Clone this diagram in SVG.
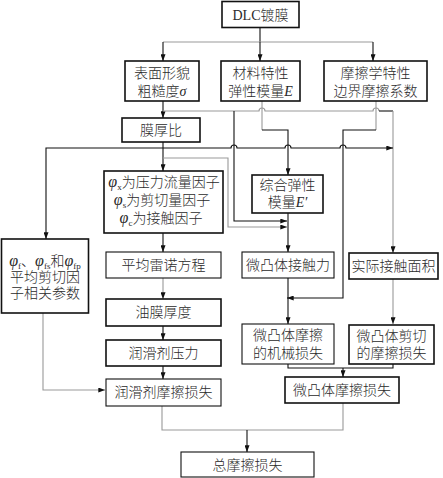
<svg xmlns="http://www.w3.org/2000/svg" width="443" height="478" viewBox="0 0 443 478">
<defs>
<marker id="ah" viewBox="0 0 8 6" refX="8" refY="3" markerWidth="7" markerHeight="5" orient="auto" markerUnits="userSpaceOnUse"><path d="M0,0 L8,3 L0,6 z" fill="#111"/></marker>
<style>
.b{fill:#fff;stroke:#111;stroke-width:1.6}
.t{fill:#fff;stroke:#111;stroke-width:1.1}
text{font-family:"Liberation Serif","Noto Sans CJK SC",serif;font-size:14px;font-weight:300;fill:#2a2a2a;text-anchor:middle}
.k{fill:none;stroke:#111;stroke-width:1.1}
.g{fill:none;stroke:#999;stroke-width:1.1}
.i{font-style:italic}
.p{font-style:italic;font-size:16px}
.s{font-size:9px}
</style>
</defs>
<rect width="443" height="478" fill="#fff"/>
<g id="connectors">
<path class="k" d="M260,28 V42"/>
<path class="g" d="M163,42 H373"/>
<path class="k" d="M163,42 V61" marker-end="url(#ah)"/>
<path class="k" d="M260,42 V61" marker-end="url(#ah)"/>
<path class="k" d="M373,42 V61" marker-end="url(#ah)"/>
<path class="k" d="M163,101 V118" marker-end="url(#ah)"/>
<path class="g" d="M163,111 H259 a3,3 0 0 1 6,0 H373 a3,3 0 0 1 6,0"/>
<path class="k" d="M379,111 H393"/>
<path class="g" d="M393,111 V253" marker-end="url(#ah)"/>
<path class="k" d="M234,111 V221 H287" marker-end="url(#ah)"/>
<path class="g" d="M262,101 V130"/>
<path class="k" d="M262,130 H288 V175" marker-end="url(#ah)"/>
<path class="g" d="M376,101 V130"/>
<path class="k" d="M376,130 H343 V298 H287" marker-end="url(#ah)"/>
<path class="k" d="M163,148 H46 V239" marker-end="url(#ah)"/>
<path class="k" d="M163,148 H231 a3,3 0 0 1 6,0 H285 a3,3 0 0 1 6,0 H340 a3,3 0 0 1 6,0 H393" marker-end="url(#ah)"/>
<path class="k" d="M163,142 V171" marker-end="url(#ah)"/>
<path class="g" d="M163,158 H228 V227 H287" marker-end="url(#ah)"/>
<path class="k" d="M163,233 V252" marker-end="url(#ah)"/>
<path class="g" d="M163,278 V299" marker-end="url(#ah)"/>
<path class="k" d="M163,326 V340" marker-end="url(#ah)"/>
<path class="k" d="M163,366 V379" marker-end="url(#ah)"/>
<path class="k" d="M288,213 V252" marker-end="url(#ah)"/>
<path class="k" d="M288,278 V324" marker-end="url(#ah)"/>
<path class="g" d="M393,279 V324" marker-end="url(#ah)"/>
<path class="k" d="M288,364 V368 H393 V364"/>
<path class="k" d="M343,368 V377" marker-end="url(#ah)"/>
<path class="g" d="M43,313 V390 H105" marker-end="url(#ah)"/>
<path class="g" d="M162,406 V430 H343 V403"/>
<path class="k" d="M247,430 V452" marker-end="url(#ah)"/>
</g>
<g id="n-dlc"><rect class="b" x="222" y="1.5" width="77" height="26"/><text x="260.5" y="20">DLC镀膜</text></g>
<g id="n-surface"><rect class="b" x="125" y="61" width="74" height="40"/><text x="162" y="78">表面形貌</text><text x="162" y="96">粗糙度<tspan class="i">σ</tspan></text></g>
<g id="n-material"><rect class="b" x="221" y="61" width="79" height="40"/><text x="260.5" y="78">材料特性</text><text x="260.5" y="96">弹性模量<tspan class="i">E</tspan></text></g>
<g id="n-tribo"><rect class="b" x="324" y="61" width="103" height="40"/><text x="375.5" y="78">摩擦学特性</text><text x="375.5" y="96">边界摩擦系数</text></g>
<g id="n-ratio"><rect class="b" x="122" y="118" width="78" height="24"/><text x="161" y="135">膜厚比</text></g>
<g id="n-phi"><rect class="b" x="104" y="171" width="119" height="62"/>
<text x="164" y="187"><tspan class="p">φ</tspan><tspan class="s" dy="3">x</tspan><tspan dy="-3">为压力流量因子</tspan></text>
<text x="162" y="205"><tspan class="p">φ</tspan><tspan class="s" dy="3">s</tspan><tspan dy="-3">为剪切量因子</tspan></text>
<text x="161" y="223"><tspan class="p">φ</tspan><tspan class="s" dy="3">c</tspan><tspan dy="-3">为接触因子</tspan></text></g>
<g id="n-phif"><rect class="b" x="1.5" y="239" width="87" height="74"/>
<text x="45" y="266"><tspan class="p">φ</tspan><tspan class="s" dy="3">f</tspan><tspan dy="-3">、</tspan><tspan class="p">φ</tspan><tspan class="s" dy="3">fs</tspan><tspan dy="-3">和</tspan><tspan class="p">φ</tspan><tspan class="s" dy="3">fp</tspan></text>
<text x="45" y="282">平均剪切因</text><text x="45" y="298">子相关参数</text></g>
<g id="n-modulus"><rect class="b" x="252" y="175" width="71" height="38"/><text x="287.5" y="190">综合弹性</text><text x="287.5" y="207">模量<tspan class="i">E′</tspan></text></g>
<g id="n-reynolds"><rect class="t" x="106" y="252" width="115" height="26"/><text x="163.5" y="270">平均雷诺方程</text></g>
<g id="n-contact"><rect class="t" x="242" y="252" width="92" height="26"/><text x="288" y="270">微凸体接触力</text></g>
<g id="n-area"><rect class="b" x="349" y="253" width="89" height="26"/><text x="393.5" y="271">实际接触面积</text></g>
<g id="n-film"><rect class="b" x="106" y="299" width="115" height="27"/><text x="163.5" y="317">油膜厚度</text></g>
<g id="n-pressure"><rect class="b" x="106" y="340" width="115" height="26"/><text x="163.5" y="358">润滑剂压力</text></g>
<g id="n-lubloss"><rect class="t" x="106" y="379" width="115" height="27"/><text x="163.5" y="397">润滑剂摩擦损失</text></g>
<g id="n-mech"><rect class="t" x="242" y="324" width="92" height="40"/><text x="288" y="340">微凸体摩擦</text><text x="288" y="358">的机械损失</text></g>
<g id="n-shear"><rect class="b" x="349" y="325" width="85" height="39"/><text x="391.5" y="341">微凸体剪切</text><text x="391.5" y="358">的摩擦损失</text></g>
<g id="n-asploss"><rect class="b" x="285" y="377" width="114" height="26"/><text x="342" y="395">微凸体摩擦损失</text></g>
<g id="n-total"><rect class="t" x="181" y="452" width="133" height="25"/><text x="247.5" y="470">总摩擦损失</text></g>
</svg>
